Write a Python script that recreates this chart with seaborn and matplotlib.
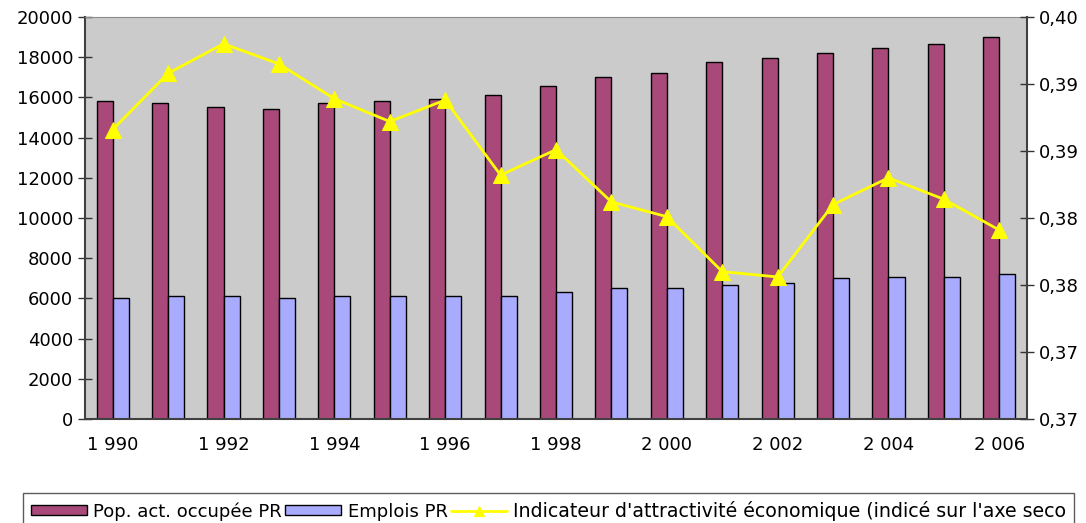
"""
plot.py — Population active occupée / emplois PR et indicateur d'attractivité
"""

import numpy as np
import pandas as pd
import matplotlib
matplotlib.use("Agg")
import matplotlib.pyplot as plt
import seaborn as sns

# --- data ---------------------------------------------------------------
years = list(range(1990, 2007))
pop_active = [15800, 15700, 15500, 15400, 15700, 15800, 15900, 16100, 16550,
              17000, 17200, 17750, 17950, 18200, 18450, 18650, 19000]
emplois = [6000, 6100, 6100, 6000, 6100, 6100, 6100, 6100, 6300,
           6500, 6500, 6650, 6750, 7000, 7050, 7050, 7200]
indicateur = [0.3916, 0.3958, 0.3980, 0.3965, 0.3939, 0.3922, 0.3938, 0.3882, 0.3901,
              0.3862, 0.3851, 0.3810, 0.3806, 0.3860, 0.3880, 0.3864, 0.3841]

x_labels = ["1 990", "", "1 992", "", "1 994", "", "1 996", "", "1 998",
            "", "2 000", "", "2 002", "", "2 004", "", "2 006"]
left_ticks = list(range(0, 20001, 2000))
right_ticks = [0.370, 0.375, 0.380, 0.385, 0.390, 0.395, 0.400]
right_labels = ["0,37", "0,37", "0,38", "0,38", "0,39", "0,39", "0,40"]

s_pop = "Pop. act. occupée PR"
s_emp = "Emplois PR"
s_ind = "Indicateur d'attractivité économique (indicé sur l'axe seco"

MAROON = "#A8497A"
LILAC = "#A9ACFE"
YELLOW = "#FFFF00"

df = pd.DataFrame({
    "annee": years * 2,
    "valeur": pop_active + emplois,
    "serie": [s_pop] * len(years) + [s_emp] * len(years),
})

# --- figure -------------------------------------------------------------
sns.set_style("white")
plt.rcParams["font.family"] = ["DejaVu Sans"]
plt.rcParams["font.size"] = 13
plt.rcParams["text.color"] = "black"
plt.rcParams["xtick.labelcolor"] = "black"
plt.rcParams["ytick.labelcolor"] = "black"

fig = plt.figure(figsize=(10.86, 5.23), dpi=100)
ax = fig.add_axes([85 / 1086, 1 - 419 / 523, 942 / 1086, 402 / 523])

sns.barplot(data=df, x="annee", y="valeur", hue="serie",
            palette=[MAROON, LILAC], saturation=1, width=0.58,
            edgecolor="black", linewidth=1, ax=ax)
handles, labels = ax.get_legend_handles_labels()
ax.get_legend().remove()

ax.set_facecolor("#CBCBCB")
ax.set_xlim(-0.5, len(years) - 0.5)
ax.set_ylim(0, 20000)
ax.set_yticks(left_ticks)
ax.set_xticks(range(len(years)))
ax.set_xticklabels(x_labels)
ax.set_xticks(np.arange(0.5, len(years) - 1, 1), minor=True)
ax.tick_params(axis="x", which="major", length=0, pad=12, labelsize=13, labelcolor="black")
ax.tick_params(axis="x", which="minor", length=6, width=1, direction="out", color="#333333")
ax.tick_params(axis="y", length=10, width=1, direction="inout", color="#333333",
               labelsize=13, labelcolor="black")
ax.set_xlabel("")
ax.set_ylabel("")

for side in ["left", "bottom"]:
    ax.spines[side].set_color("#404040")
    ax.spines[side].set_linewidth(1.5)
ax.spines["top"].set_color("#8A8A8A")
ax.spines["right"].set_visible(False)

# secondary axis — indicator line
ax2 = ax.twinx()
sns.lineplot(x=np.arange(len(years)), y=indicateur, ax=ax2, color=YELLOW,
             linewidth=2, marker="^", markersize=11, markeredgecolor=YELLOW)
ax2.set_ylim(0.37, 0.40)
ax2.set_yticks(right_ticks)
ax2.set_yticklabels(right_labels)
ax2.tick_params(axis="y", length=10, width=1, direction="inout", color="#333333",
                labelsize=13, labelcolor="black")
ax2.set_xlim(-0.5, len(years) - 0.5)
ax2.spines["right"].set_color("#404040")
ax2.spines["right"].set_linewidth(1.5)
for side in ["left", "top", "bottom"]:
    ax2.spines[side].set_visible(False)

line_handle = ax2.get_lines()[0]

leg = fig.legend(handles + [line_handle], [s_pop, s_emp, s_ind],
                 loc="upper left", bbox_to_anchor=(23 / 1086, 1 - 493 / 523),
                 ncol=3, frameon=True, fancybox=False, edgecolor="#333333",
                 handlelength=3.1, handleheight=0.45, handletextpad=0.35,
                 columnspacing=0.2, borderpad=0.42, borderaxespad=0,
                 fontsize=13, markerscale=0.7)
leg.get_frame().set_linewidth(1)
for t in leg.get_texts():
    t.set_color("black")
leg.get_texts()[2].set_fontsize(13.7)

plt.savefig("out.png", dpi=100)
plt.close()
